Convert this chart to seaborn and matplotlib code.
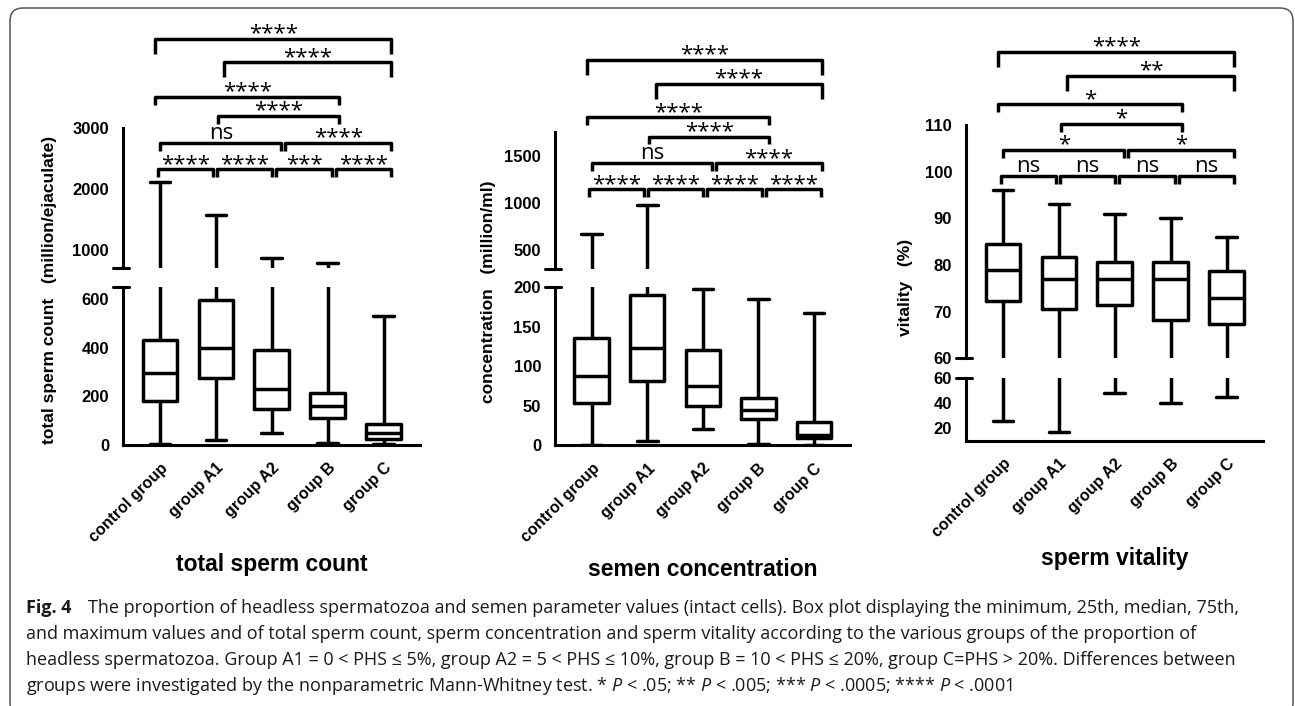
import matplotlib
matplotlib.use("Agg")
import matplotlib.pyplot as plt
import seaborn as sns
import pandas as pd
import numpy as np
from matplotlib.transforms import Affine2D, blended_transform_factory
from matplotlib.patches import FancyBboxPatch
from matplotlib.lines import Line2D

# ---------------- data ----------------
groups = ["control group", "group A1", "group A2", "group B", "group C"]

# five-number summaries (min, Q1, median, Q3, max)
count_min = [5, 20, 50, 10, 5]
count_q1 = [182, 277, 147, 110, 24]
count_med = [297, 400, 231, 160, 51]
count_q3 = [434, 598, 390, 215, 85]
count_max = [2110, 1572, 872, 780, 533]

conc_min = [1, 6, 20, 2, 1]
conc_q1 = [54, 81, 50, 33, 9]
conc_med = [88, 123, 75, 45, 13]
conc_q3 = [136, 190, 120, 60, 29]
conc_max = [680, 986, 198, 185, 167]

vit_min = [26, 17, 48, 40, 45]
vit_q1 = [72.3, 70.5, 71.4, 68.2, 67.3]
vit_med = [79, 77, 77, 77, 73]
vit_q3 = [84.5, 81.7, 80.7, 80.7, 78.7]
vit_max = [96, 93, 91, 90, 86]

# pairwise comparisons (Mann-Whitney) and their significance labels
pairs = [(0, 1), (1, 2), (2, 3), (3, 4), (0, 2), (2, 4), (1, 3), (0, 3), (1, 4), (0, 4)]
count_sig = ["****", "****", "***", "****", "ns", "****", "****", "****", "****", "****"]
conc_sig = ["****", "****", "****", "****", "ns", "****", "****", "****", "****", "****"]
vit_sig = ["ns", "ns", "ns", "ns", "*", "*", "*", "*", "**", "****"]

caption_lines = [
    "The proportion of headless spermatozoa and semen parameter values (intact cells). Box plot displaying the minimum, 25th, median, 75th,",
    "and maximum values and of total sperm count, sperm concentration and sperm vitality according to the various groups of the proportion of",
    "headless spermatozoa. Group A1 = 0 < PHS \u2264 5%, group A2 = 5 < PHS \u2264 10%, group B = 10 < PHS \u2264 20%, group C=PHS > 20%. Differences between",
    "groups were investigated by the nonparametric Mann-Whitney test. * $P$ < .05; ** $P$ < .005; *** $P$ < .0005; **** $P$ < .0001",
]

# ---------------- layout / style ----------------
sns.set_theme(style="white")
plt.rcParams["font.family"] = ["Liberation Sans", "DejaVu Sans"]
plt.rcParams["mathtext.fontset"] = "custom"
plt.rcParams["mathtext.it"] = "Open Sans:style=italic:weight=normal"
plt.rcParams["mathtext.rm"] = "Open Sans:weight=normal"

W, H = 1295, 706
fig = plt.figure(figsize=(W / 100, H / 100), dpi=100)
fig.patch.set_facecolor("white")
toppix = Affine2D().scale(1, -1).translate(0, H)

# outer frame
frame = FancyBboxPatch((10, H - 716), 1283, 708, boxstyle="round,pad=0,rounding_size=13",
                       transform=None, facecolor="none", edgecolor="#555555", linewidth=1.1)
fig.patches.append(frame)


def rect(x0, x1, yt, yb):
    return [x0 / W, 1 - yb / H, (x1 - x0) / W, (yb - yt) / H]


# bracket level of each pair, and small horizontal offsets (in group units)
pair_level = [0, 0, 0, 0, 1, 1, 2, 3, 4, 5]
pair_off = [(-0.04, -0.05), (0.02, 0.01), (0.08, 0.07), (0.14, 0.13),
            (0.01, 0.17), (0.23, 0.14), (0.04, 0.20), (-0.08, 0.20),
            (0.15, 0.14), (-0.08, 0.14)]
leg_len = [8, 8, 7.5, 8, 15, 15]

panels = [
    dict(x=(123, 420), up=(128, 268.3), low=(287.3, 445), up_lim=(700, 3000), low_lim=(0, 650),
         up_major=[1000, 2000, 3000], up_minor=[1500, 2500],
         low_major=[0, 200, 400, 600], low_minor=[100, 300, 500],
         stats=(count_min, count_q1, count_med, count_q3, count_max), sig=count_sig,
         ylabel="total sperm count   (million/ejaculate)", ylabel_xy=(50, 290),
         title="total sperm count", title_y=565,
         levels=[169.3, 142.7, 116, 96.7, 62.3, 39]),
    dict(x=(555, 850), up=(132, 269.3), low=(287.3, 445.3), up_lim=(300, 1760), low_lim=(0, 200),
         up_major=[500, 1000, 1500], up_minor=[750, 1250, 1750],
         low_major=[0, 50, 100, 150, 200], low_minor=[25, 75, 125, 175],
         stats=(conc_min, conc_q1, conc_med, conc_q3, conc_max), sig=conc_sig,
         ylabel="concentration   (million/ml)", ylabel_xy=(488, 292),
         title="semen concentration", title_y=570,
         levels=[189.3, 163.3, 136.7, 117.3, 84, 60]),
    dict(x=(966, 1263), up=(125, 358.3), low=(377.7, 440.7), up_lim=(60, 110), low_lim=(10, 60),
         up_major=[60, 70, 80, 90, 100, 110], up_minor=[],
         low_major=[20, 40, 60], low_minor=[],
         stats=(vit_min, vit_q1, vit_med, vit_q3, vit_max), sig=vit_sig,
         ylabel="vitality   (%)", ylabel_xy=(905, 287),
         title="sperm vitality", title_y=558,
         levels=[175.7, 150, 124, 104.3, 76, 51.7]),
]

LW = 2.5
for p in panels:
    x0, x1 = p["x"]
    vals = np.column_stack(p["stats"]).ravel()
    df = pd.DataFrame({"group": np.repeat(groups, 5), "value": vals})
    ax_u = fig.add_axes(rect(x0, x1, *p["up"]))
    ax_l = fig.add_axes(rect(x0, x1, *p["low"]))
    for ax, lim, maj, mnr in ((ax_u, p["up_lim"], p["up_major"], p["up_minor"]),
                              (ax_l, p["low_lim"], p["low_major"], p["low_minor"])):
        sns.boxplot(data=df, x="group", y="value", order=groups, whis=(0, 100), width=0.62,
                    fill=False, color="black", linewidth=LW, ax=ax, capwidths=0.37)
        ax.set_facecolor("none")
        ax.set_xlim(-0.66, 4.65)
        ax.set_ylim(*lim)
        ax.set_xlabel("")
        ax.set_ylabel("")
        ax.set_yticks(maj)
        ax.set_yticklabels([str(v) for v in maj], fontweight="bold")
        ax.set_yticks(mnr, minor=True)
        ax.tick_params(axis="y", which="major", direction="out", length=8, width=2.2,
                       labelsize=12, pad=2, color="black", labelcolor="black")
        ax.tick_params(axis="y", which="minor", direction="out", length=4.5, width=2.2, color="black")
        for s in ("top", "right"):
            ax.spines[s].set_visible(False)
        for s in ("left", "bottom"):
            ax.spines[s].set_linewidth(2.2)
            ax.spines[s].set_color("black")
    ax_u.spines["bottom"].set_visible(False)
    ax_u.set_xticks([])
    ax_l.set_xticks(range(len(groups)))
    ax_l.set_xticklabels(groups, rotation=45, ha="right", va="top", rotation_mode="anchor",
                         fontweight="bold")
    ax_l.tick_params(axis="x", direction="out", length=7, width=2.2, labelsize=11.5, pad=4,
                     color="black", labelcolor="black")

    # axis break marks
    for yb in (p["up"][1], p["low"][0]):
        fig.lines.append(Line2D([x0 - 10, x0 + 6], [yb, yb], transform=toppix,
                                color="black", linewidth=2.2))

    # y label, title
    fig.text(p["ylabel_xy"][0] / W, 1 - p["ylabel_xy"][1] / H, p["ylabel"], rotation=90,
             ha="center", va="center", fontsize=12.5, fontweight="bold", color="black")
    tr = blended_transform_factory(ax_l.transData, toppix)
    fig.text(2, p["title_y"], p["title"], transform=tr, ha="center", va="center",
             fontsize=16.5, fontweight="bold", color="black")

    # significance brackets
    for (i, j), lab, lev, (dl, dr) in zip(pairs, p["sig"], pair_level, pair_off):
        y = p["levels"][lev]
        leg = leg_len[lev]
        xl, xr = i + dl, j + dr
        ax_u.add_line(Line2D([xl, xl, xr, xr], [y + leg, y, y, y + leg], transform=tr,
                             color="black", linewidth=LW, clip_on=False,
                             solid_joinstyle="round", solid_capstyle="butt"))
        dy = -4 if lab == "ns" else 0.5
        ax_u.text((xl + xr) / 2, y + dy, lab, transform=tr, ha="center", va="baseline",
                  fontsize=16, fontweight="normal", family=["Open Sans", "DejaVu Sans"],
                  color="black", clip_on=False)

# caption
cap_y = [608, 634, 660, 686]
fig.text(26 / W, 1 - cap_y[0] / H, "Fig. 4", ha="left", va="center", fontsize=13,
         fontweight="bold", family=["Open Sans", "DejaVu Sans"], color="#1a1a1a")
for k, line in enumerate(caption_lines):
    x = 88 if k == 0 else 26
    fig.text(x / W, 1 - cap_y[k] / H, line, ha="left", va="center", fontsize=13,
             fontweight="normal", family=["Open Sans", "DejaVu Sans"], color="#1a1a1a")

fig.savefig("out.png", dpi=100, facecolor="white")
